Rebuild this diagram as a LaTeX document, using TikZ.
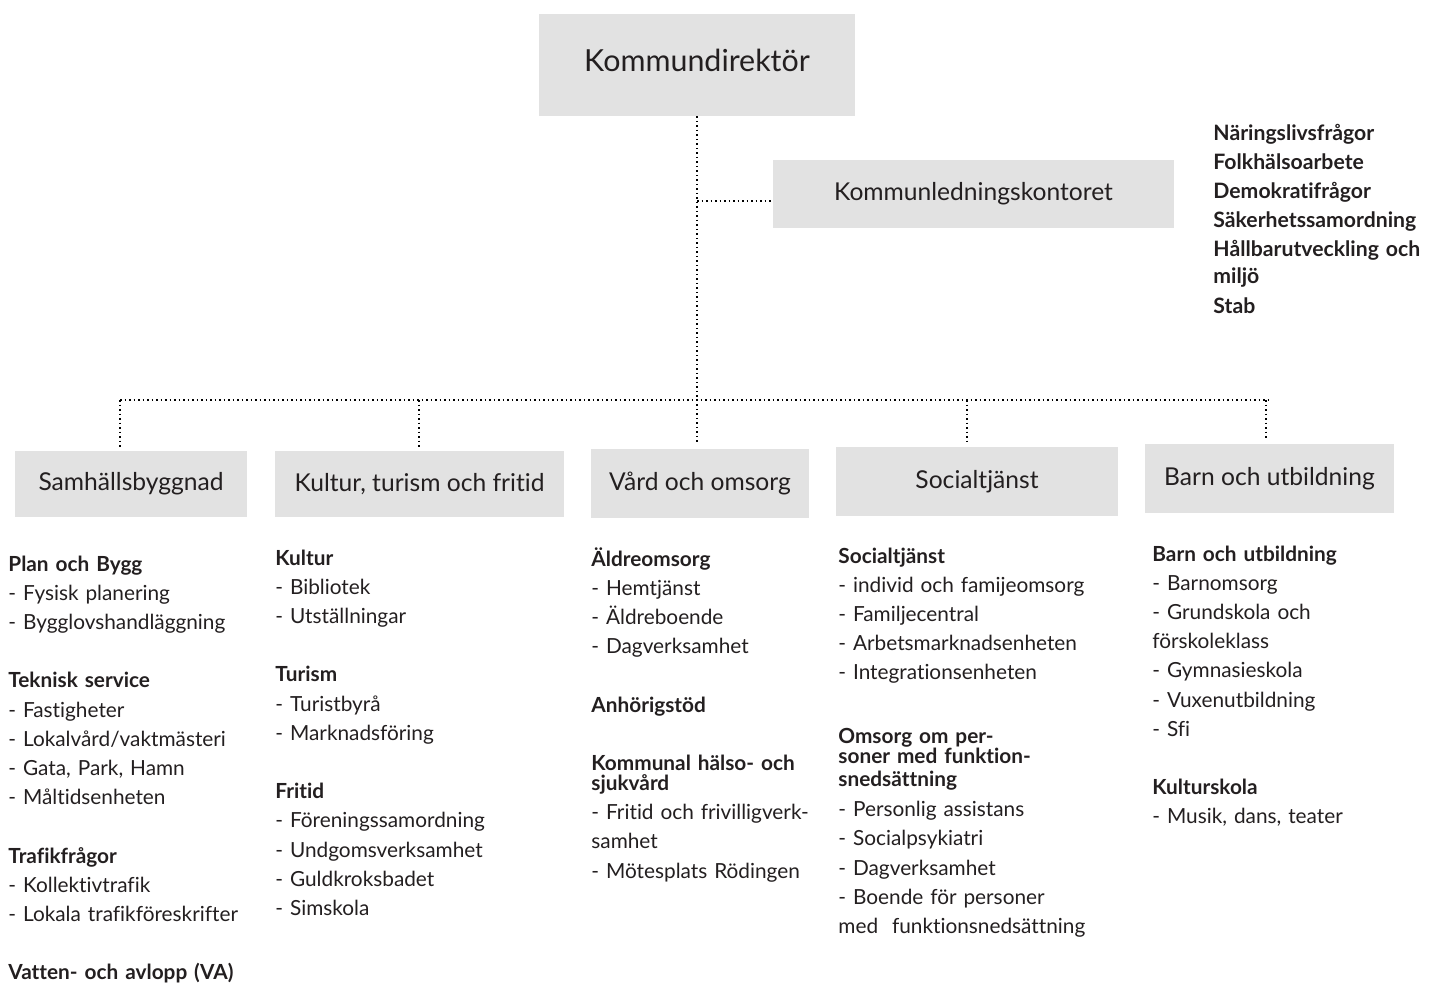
\documentclass[tikz,border=0pt]{standalone}
\usepackage{fontspec}
\setmainfont{Lato}[Ligatures=NoCommon]
\usetikzlibrary{positioning}
\definecolor{boxgray}{HTML}{E2E2E2}
\definecolor{ink}{HTML}{231F20}
\tikzstyle{line} = [draw, line width=0.75pt, dash pattern=on 0.75pt off 1.5pt]
\tikzstyle{box} = [rectangle, fill=boxgray, text=ink, inner sep=0pt, font=\fontsize{12.3}{14}\selectfont]
\tikzstyle{list} = [anchor=base west, inner sep=0pt, text=ink, text width=140pt, align=left, font=\fontsize{10.4}{14.6}\selectfont]
\newcommand{\blankline}{\\[14.6pt]}

\begin{document}
\begin{tikzpicture}[x=0.5pt, y=-0.5pt]
		\useasboundingbox (0,0) rectangle (1433,986);
		
		\node[box, minimum width=158pt, minimum height=51pt, text depth=5pt, font=\fontsize{15.2}{17}\selectfont] (dir) at (697,65) {Kommundirektör};
		\node[box, minimum width=200.5pt, minimum height=34pt] (klk) at (973.5,194) {Kommunledningskontoret};
		\node[list, font=\bfseries\fontsize{10.6}{14.6}\selectfont] (staff) at (1213,140) {Näringslivsfrågor\\Folkhälsoarbete\\Demokratifrågor\\Säkerhetssamordning\\Hållbarutveckling och\\[-1.1pt]miljö\\Stab};
		
		\node[box, minimum width=116pt, minimum height=33pt] (samh) at (131,484) {Samhällsbyggnad};
		\node[box, minimum width=144.5pt, minimum height=33pt] (kult) at (419.5,484) {Kultur, turism och fritid};
		\node[box, minimum width=109pt, minimum height=34.5pt] (vard) at (700,483.5) {Vård och omsorg};
		\node[box, minimum width=141pt, minimum height=34.5pt] (soc) at (977,481.5) {Socialtjänst};
		\node[box, minimum width=124.5pt, minimum height=34.5pt] (barn) at (1269.5,478.5) {Barn och utbildning};
		
		\coordinate (br) at (697,201);
		\coordinate (bus_l) at (120,400);
		\coordinate (bus_r) at (1268,400);
		\coordinate (d_samh) at (120,400);
		\coordinate (d_kult) at (419,400);
		\coordinate (d_soc) at (967,400);
		\coordinate (d_barn) at (1266,400);
		
		\path [line, shorten >=2pt] (dir.south) -- (dir.south |- vard.north);
		\path [line] (br) -- (br -| klk.west);
		\path [line] (bus_l) -- (bus_r);
		\foreach \n in {samh, kult, soc, barn}
			\path [line, shorten >=2pt] (d_\n) -- (d_\n |- \n.north);
		
		\node[list] (list_samh) at (8,571) {\textbf{Plan och Bygg}\\- Fysisk planering\\- Bygglovshandläggning\blankline
			\textbf{Teknisk service}\\- Fastigheter\\- Lokalvård/vaktmästeri\\- Gata, Park, Hamn\\- Måltidsenheten\blankline
			\textbf{Trafikfrågor}\\- Kollektivtrafik\\- Lokala trafikföreskrifter\blankline
			\textbf{Vatten- och avlopp (VA)}};
		
		\node[list] (list_kult) at (275,565) {\textbf{Kultur}\\- Bibliotek\\- Utställningar\blankline
			\textbf{Turism}\\- Turistbyrå\\- Marknadsföring\blankline
			\textbf{Fritid}\\- Föreningssamordning\\- Undgomsverksamhet\\- Guldkroksbadet\\- Simskola};
		
		\node[list] (list_vard) at (591,566) {\textbf{Äldreomsorg}\\- Hemtjänst\\- Äldreboende\\- Dagverksamhet\blankline
			\textbf{Anhörigstöd}\blankline
			\textbf{Kommunal hälso- och}\\[-4.6pt]\textbf{sjukvård}\\- Fritid och frivilligverk-\\samhet\\- Mötesplats Rödingen};
		
		\node[list] (list_soc) at (838,563) {\textbf{Socialtjänst}\\- individ och famijeomsorg\\- Familjecentral\\- Arbetsmarknadsenheten\\- Integrationsenheten\\[17pt]
			\textbf{Omsorg om per-}\\[-4.2pt]\textbf{soner med funktion-}\\[-3.4pt]\textbf{snedsättning}\\[0.6pt]- Personlig assistans\\- Socialpsykiatri\\- Dagverksamhet\\- Boende för personer\\med~~funktionsnedsättning};
		
		\node[list] (list_barn) at (1152,561) {\textbf{Barn och utbildning}\\- Barnomsorg\\- Grundskola och\\förskoleklass\\- Gymnasieskola\\- Vuxenutbildning\\- Sfi\blankline
			\textbf{Kulturskola}\\- Musik, dans, teater};
		
		
\end{tikzpicture}
\end{document}
